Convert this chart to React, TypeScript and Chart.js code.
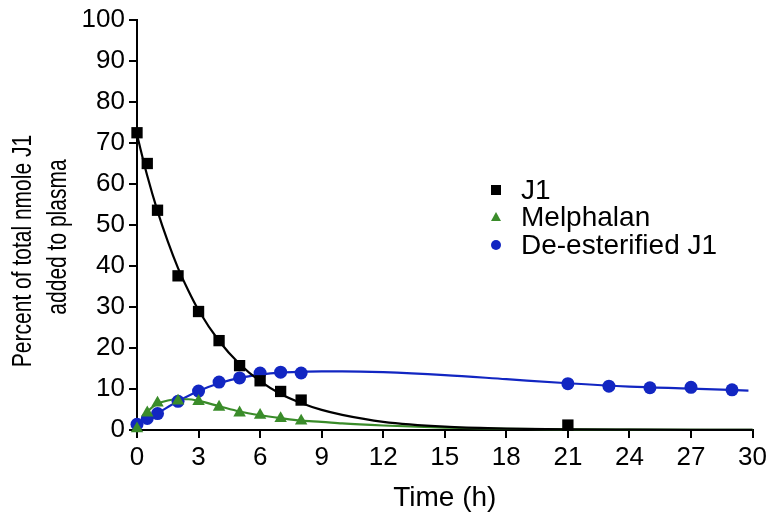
import React, { useEffect, useRef } from 'react';
import { Chart, registerables } from 'chart.js';

Chart.register(...registerables);

// Measured points
const j1Times = [0, 0.5, 1, 2, 3, 4, 5, 6, 7, 8, 21];
const j1Values = [72.5, 65, 53.6, 37.6, 28.9, 21.8, 15.7, 12.0, 9.4, 7.3, 1.2];

const melTimes = [0, 0.5, 1, 2, 3, 4, 5, 6, 7, 8];
const melValues = [0.3, 4.2, 6.6, 7.1, 7.0, 5.6, 4.2, 3.6, 2.8, 2.2];

const deTimes = [0, 0.5, 1, 2, 3, 4, 5, 6, 7, 8, 21, 23, 25, 27, 29];
const deValues = [1.4, 2.8, 4.0, 7.0, 9.5, 11.7, 12.7, 13.9, 14.1, 13.9, 11.3, 10.7, 10.3, 10.4, 9.8];

// Fitted curves
const j1FitTimes = [0, 0.5, 1, 1.5, 2, 2.5, 3, 4, 5, 6, 7, 8, 9, 10, 12, 15, 18, 21, 24, 27, 30];
const j1FitValues = [72, 62, 53.4, 46, 39.5, 34, 29.2, 21.7, 16.1, 11.9, 8.8, 6.6, 4.9, 3.7, 2.0, 0.8, 0.35, 0.15, 0.07, 0.03, 0.01];

const melFitTimes = [0, 0.25, 0.5, 0.75, 1, 1.5, 2, 2.5, 3, 4, 5, 6, 7, 8, 9, 10, 12, 15, 18, 21, 24, 30];
const melFitValues = [0, 2.6, 4.4, 5.6, 6.4, 7.2, 7.5, 7.5, 7.1, 5.8, 4.5, 3.6, 2.9, 2.3, 2.0, 1.6, 1.1, 0.6, 0.3, 0.15, 0.08, 0.02];

const deFitTimes = [0, 0.5, 1, 2, 3, 4, 5, 6, 7, 8, 9, 10, 12, 15, 18, 21, 24, 27, 29.8];
const deFitValues = [1.2, 2.7, 4.1, 7.0, 9.5, 11.4, 12.7, 13.5, 14.0, 14.2, 14.3, 14.3, 14.1, 13.4, 12.4, 11.4, 10.6, 10.1, 9.6];

const seriesNames = ['J1', 'Melphalan', 'De-esterified J1'];
const seriesColors = ['#000000', '#3a8c2a', '#1226c2'];
const yTitleLines = ['Percent of total nmole J1', 'added to plasma'];
const xTitle = 'Time (h)';

const FONT = '"Liberation Sans", Arial, Helvetica, sans-serif';

const toXY = (xs: number[], ys: number[]) => xs.map((x, i) => ({ x, y: ys[i] }));

const overlayPlugin = {
  id: 'overlay',
  afterDraw(chart: any) {
    const ctx = chart.ctx as CanvasRenderingContext2D;
    ctx.save();
    // Y axis title (two lines, rotated)
    ctx.fillStyle = '#000';
    ctx.font = `21px ${FONT}`;
    ctx.textAlign = 'center';
    ctx.textBaseline = 'middle';
    const titlePos = [
      [23, 251],
      [58, 237],
    ];
    yTitleLines.forEach((t, i) => {
      ctx.save();
      ctx.translate(titlePos[i][0], titlePos[i][1]);
      ctx.rotate(-Math.PI / 2);
      ctx.scale(1, 1.3);
      ctx.fillText(t, 0, 0);
      ctx.restore();
    });

    // Legend
    const lx = 496;
    const tx = 521;
    const rows = [190, 217, 245];
    ctx.font = `28px ${FONT}`;
    ctx.textAlign = 'left';
    ctx.textBaseline = 'alphabetic';
    rows.forEach((ry, i) => {
      ctx.fillStyle = seriesColors[i];
      ctx.beginPath();
      if (i === 0) {
        ctx.rect(lx - 5, ry - 5, 10, 10);
      } else if (i === 1) {
        ctx.moveTo(lx, ry - 5);
        ctx.lineTo(lx + 5, ry + 4);
        ctx.lineTo(lx - 5, ry + 4);
        ctx.closePath();
      } else {
        ctx.arc(lx, ry, 5, 0, Math.PI * 2);
      }
      ctx.fill();
      ctx.fillStyle = '#000';
      ctx.fillText(seriesNames[i], tx, ry + 9);
    });
    ctx.restore();
  },
};

export default function App() {
  const canvasRef = useRef<HTMLCanvasElement | null>(null);

  useEffect(() => {
    const canvas = canvasRef.current;
    if (!canvas) return;

    const pointDs = (label: string, xs: number[], ys: number[], color: string, style: string, radius: number) => ({
      label,
      data: toXY(xs, ys),
      showLine: false,
      pointStyle: style,
      pointRadius: radius,
      pointHoverRadius: radius,
      pointBackgroundColor: color,
      pointBorderColor: color,
      pointBorderWidth: 0,
      clip: false as any,
      order: 0,
    });
    const lineDs = (label: string, xs: number[], ys: number[], color: string) => ({
      label,
      data: toXY(xs, ys),
      showLine: true,
      borderColor: color,
      borderWidth: 2.2,
      pointRadius: 0,
      cubicInterpolationMode: 'monotone' as const,
      clip: false as any,
      order: 1,
    });

    const chart = new Chart(canvas, {
      type: 'scatter',
      data: {
        datasets: [
          pointDs(seriesNames[0], j1Times, j1Values, seriesColors[0], 'rect', 8),
          pointDs(seriesNames[1], melTimes, melValues, seriesColors[1], 'triangle', 7.2),
          pointDs(seriesNames[2], deTimes, deValues, seriesColors[2], 'circle', 6.5),
          lineDs(seriesNames[0] + ' fit', j1FitTimes, j1FitValues, seriesColors[0]),
          lineDs(seriesNames[1] + ' fit', melFitTimes, melFitValues, seriesColors[1]),
          lineDs(seriesNames[2] + ' fit', deFitTimes, deFitValues, seriesColors[2]),
        ] as any,
      },
      options: {
        animation: false,
        responsive: false,
        devicePixelRatio: 1,
        layout: { padding: { top: 20, right: 17, left: 0, bottom: 0 } },
        plugins: {
          legend: { display: false },
          tooltip: { enabled: false },
        },
        scales: {
          x: {
            type: 'linear',
            min: 0,
            max: 30,
            afterFit: (scale: any) => {
              scale.height = 85;
            },
            ticks: {
              stepSize: 3,
              autoSkip: false,
              color: '#000',
              padding: 4,
              font: { family: FONT, size: 26 },
            },
            grid: {
              display: true,
              drawOnChartArea: false,
              drawTicks: true,
              tickLength: 8,
              color: '#000',
              lineWidth: 2,
            },
            border: { display: true, color: '#000', width: 2 },
            title: {
              display: true,
              text: xTitle,
              color: '#000',
              font: { family: FONT, size: 28 },
              padding: { top: 0, bottom: 0 },
            },
          },
          y: {
            type: 'linear',
            min: 0,
            max: 100,
            afterFit: (scale: any) => {
              scale.width = 137;
            },
            ticks: {
              stepSize: 10,
              autoSkip: false,
              color: '#000',
              padding: 4,
              font: { family: FONT, size: 26 },
            },
            grid: {
              display: true,
              drawOnChartArea: false,
              drawTicks: true,
              tickLength: 8,
              color: '#000',
              lineWidth: 2,
            },
            border: { display: true, color: '#000', width: 2 },
          },
        },
      } as any,
      plugins: [overlayPlugin],
    });

    return () => {
      chart.destroy();
    };
  }, []);

  return (
    <div style={{ position: 'absolute', left: 0, top: 0, width: 771, height: 515, background: '#fff' }}>
      <canvas ref={canvasRef} width={771} height={515} style={{ display: 'block', width: 771, height: 515 }} />
    </div>
  );
}
